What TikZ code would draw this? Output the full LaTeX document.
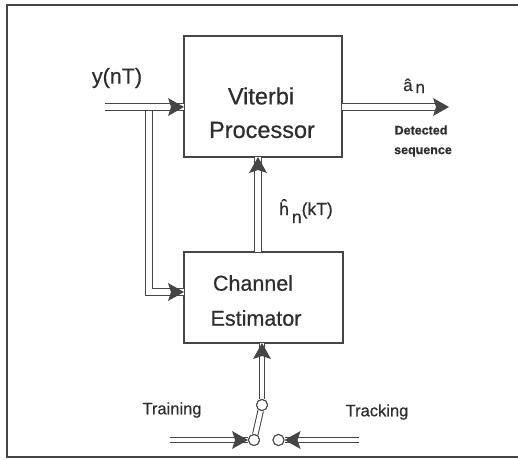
\documentclass[tikz,border=0pt]{standalone}
\usepackage{fontspec}
\setmainfont[FakeBold=0.6]{Liberation Sans}
\definecolor{linec}{HTML}{454545}
\definecolor{textc}{HTML}{2e2e2e}
\begin{document}
\begin{tikzpicture}[x=1pt,y=-1pt,
  box/.style={draw=linec, line width=1.1pt, inner sep=0pt},
  dbl/.style={draw=linec, double=white, double distance=6pt, line width=1pt},
  dbls/.style={draw=linec, double=white, double distance=4.5pt, line width=1pt},
  contact/.style={circle, draw=linec, fill=white, line width=1pt, minimum size=11pt, inner sep=0pt},
  lbl/.style={text=textc, inner sep=0pt},
  big/.style={lbl, font=\fontsize{21.5}{24}\selectfont},
  vbig/.style={lbl, font=\fontsize{23.5}{26}\selectfont},
  mid/.style={lbl, font=\fontsize{16.5}{19}\selectfont},
  small/.style={lbl, font=\fontsize{12.5}{14}\selectfont\bfseries},
  tipR/.pic={\fill[linec] (0,0) -- (-16,-9) -- (-13,0) -- (-16,9) -- cycle;},
  tipL/.pic={\fill[linec] (0,0) -- (16,-9) -- (13,0) -- (16,9) -- cycle;},
  tipU/.pic={\fill[linec] (0,0) -- (-9,16) -- (0,13) -- (9,16) -- cycle;}
]
\useasboundingbox (0,0) rectangle (518,459);
% frame
\draw[linec, line width=1.2pt] (518,5) -- (7,5) -- (7,457) -- (518,457);

% blocks
\node[box, minimum width=158pt, minimum height=121pt] (vit) at (263,96.5) {};
\node[box, minimum width=159pt, minimum height=91pt] (ce) at (263.5,297.5) {};
\node[vbig] (vt1) at (261,96) {Viterbi};
\node[vbig] (vt2) at (262,130) {Processor};
\node[big] (ct1) at (253,283) {Channel};
\node[big] (ct2) at (256,318) {Estimator};

% coordinates
\coordinate (yin) at (105,107);
\coordinate (br) at (149,107);
\coordinate (vin) at (184,107);
\coordinate (cein) at (184,292);
\coordinate (vout) at (342,107);
\coordinate (oend) at (440,107);
\coordinate (otip) at (449,107);
\coordinate (hbot) at (258,252);
\coordinate (htop) at (258,157);
\coordinate (cebot) at (262,343);

% input and branch
\draw[dbl] (br) |- (cein);
\draw[dbl] (yin) -- (vin);
\pic at (vin) {tipR};
\pic at (cein) {tipR};

% output
\draw[dbl] (vout) -- (oend);
\pic at (otip) {tipR};

% channel estimate
\draw[dbl] (hbot) -- (htop);
\pic at (htop) {tipU};

% switch
\node[contact] (piv) at (262,405) {};
\node[contact] (lc) at (254,440) {};
\node[contact] (rc) at (278.5,440) {};
\coordinate (trin) at (170,440);
\coordinate (tkin) at (359,440);
\draw[dbls] (piv) -- (cebot);
\pic at (cebot) {tipU};
\draw[dbls] (piv) -- (lc);
\draw[dbls] (trin) -- (lc.west);
\draw[dbls] (tkin) -- (rc.east);
\pic at (lc.west) {tipR};
\pic at (rc.east) {tipL};
\node[contact] at (piv) {};
\node[contact] at (lc) {};
\node[contact] at (rc) {};

% labels
\node[big] (ylab) at (117,78) {y(nT)};
\node[lbl, anchor=base west, font=\fontsize{17}{19}\selectfont] (alab) at (403,91) {â\,\raisebox{-2pt}{n}};
\node[small] (det1) at (421,130) {Detected};
\node[small] (det2) at (423,152) {sequence};
\node[lbl, anchor=base west, font=\fontsize{17.5}{19}\selectfont] (hlab) at (279,215) {ĥ\hspace{3pt}\raisebox{-8pt}{n}(kT)};
\node[mid] (trl) at (172,410) {Training};
\node[mid] (tkl) at (377,412) {Tracking};
\end{tikzpicture}
\end{document}
